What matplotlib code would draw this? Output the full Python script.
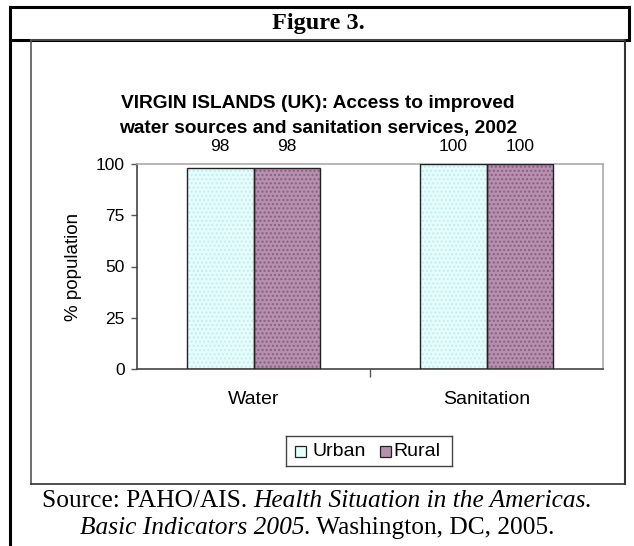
import matplotlib
matplotlib.use("Agg")
import matplotlib.pyplot as plt
from matplotlib.lines import Line2D
from matplotlib.patches import Rectangle
from matplotlib.textpath import TextPath
from matplotlib.font_manager import FontProperties
import matplotlib.transforms as mtransforms
import numpy as np

categories = ["Water", "Sanitation"]
urban = [98, 100]
rural = [98, 100]
series_names = ["Urban", "Rural"]
yticks = [0, 25, 50, 75, 100]

W, H = 634, 546
fig = plt.figure(figsize=(W / 100, H / 100), dpi=100)

def fx(x):
    return x / W

def fy(y):
    return 1 - y / H

def line(x0, y0, x1, y1, lw=2.2, color="black"):
    fig.add_artist(Line2D([fx(x0), fx(x1)], [fy(y0), fy(y1)], transform=fig.transFigure,
                          lw=lw, color=color, solid_capstyle="projecting"))

# table frame
line(10, 7, 629, 7)
line(10, 7, 10, 546)
line(629, 7, 629, 40)
line(10, 40, 629, 40)
# chart frame
line(31, 40, 625, 40, lw=1.2, color="#555555")
line(31, 40, 31, 484, lw=1.2, color="#555555")
line(625, 40, 625, 484, lw=1.5, color="#333333")
line(31, 484, 625, 484, lw=1.2, color="#333333")

fig.text(fx(318), fy(23), "Figure 3.", ha="center", va="center",
         family="Liberation Serif", weight="bold", fontsize=17.5)
fig.text(fx(318), fy(103), "VIRGIN ISLANDS (UK): Access to improved", ha="center", va="center",
         family="Liberation Sans", weight="bold", fontsize=13.8)
fig.text(fx(318), fy(129), "water sources and sanitation services, 2002", ha="center", va="center",
         family="Liberation Sans", weight="bold", fontsize=13.8)

ax = fig.add_axes([fx(137), fy(369), (603 - 137) / W, (369 - 164) / H])
x = np.arange(len(categories))
bw = 0.285
urban_fc, urban_hc = "#E4FDFD", "#C8ECEC"
rural_fc, rural_hc = "#B690AE", "#8A5E80"
for vals, off, fc, hc in [(urban, -bw / 2, urban_fc, urban_hc), (rural, bw / 2, rural_fc, rural_hc)]:
    ax.bar(x + off, vals, bw, color=fc, edgecolor=hc, hatch="....", linewidth=0, zorder=2)
    ax.bar(x + off, vals, bw, fill=False, edgecolor="#222222", linewidth=1.0, zorder=3)
    for xi, v in zip(x + off, vals):
        ax.text(xi, 108.5, f"{v}", ha="center", va="center", family="Liberation Sans", fontsize=12.5,
                clip_on=False)

ax.set_xlim(-0.5, 1.5)
ax.set_ylim(0, 100)
ax.set_yticks(yticks)
ax.set_yticklabels([str(t) for t in yticks], family="Liberation Sans", fontsize=12.5)
ax.set_xticks([0.5])
ax.set_xticklabels([""])
ax.tick_params(axis="y", direction="out", length=4, width=1, color="#555555", pad=5)
ax.tick_params(axis="x", direction="out", length=6, width=1, color="#555555")
trans = mtransforms.blended_transform_factory(ax.transData, fig.transFigure)
for xi, c in zip(x, categories):
    ax.text(xi, fy(400), c, transform=trans, ha="center", va="center",
            family="Liberation Sans", fontsize=14)
fig.text(fx(73), fy(267), "% population", rotation=90, ha="center", va="center",
         family="Liberation Sans", fontsize=13.5)
for s in ["top", "right"]:
    ax.spines[s].set_color("#AAAAAA")
    ax.spines[s].set_linewidth(1.2)
for s in ["left", "bottom"]:
    ax.spines[s].set_color("#444444")
    ax.spines[s].set_linewidth(1.2)

# legend
lg = fig.add_axes([fx(286), fy(466), (452 - 286) / W, (466 - 436) / H])
lg.set_xlim(0, 166)
lg.set_ylim(30, 0)
lg.set_xticks([])
lg.set_yticks([])
for s in lg.spines.values():
    s.set_color("#444444")
    s.set_linewidth(1.0)
lg.add_patch(Rectangle((9, 10), 11, 11, facecolor=urban_fc, edgecolor="#222222", lw=0.9))
lg.text(26, 15.5, series_names[0], va="center", ha="left", family="Liberation Sans", fontsize=14)
lg.add_patch(Rectangle((94, 10), 11, 11, facecolor=rural_fc, edgecolor="#222222", lw=0.9))
lg.text(107, 15.5, series_names[1], va="center", ha="left", family="Liberation Sans", fontsize=14)

t1 = "Source: PAHO/AIS. "
t2 = "Health Situation in the Americas."
t3 = "Basic Indicators 2005"
t4 = ". Washington, DC, 2005."
fs = 18.3
fp_r = FontProperties(family="Liberation Serif", size=fs)
fp_i = FontProperties(family="Liberation Serif", size=fs, style="italic")

def width_px(s, fp):
    return TextPath((0, 0), s, prop=fp).get_extents().width * 100 / 72

def width_adv(s, fp):
    return width_px(s.replace(" ", "\u00a0") + "|", fp) - width_px("|", fp)

w1 = width_adv(t1, fp_r); w2 = width_adv(t2, fp_i)
start = 319 - (w1 + w2) / 2
fig.text(fx(start), fy(501), t1, ha="left", va="center", fontproperties=fp_r)
fig.text(fx(start + w1), fy(501), t2, ha="left", va="center", fontproperties=fp_i)
w3 = width_adv(t3, fp_i) - 3; w4 = width_adv(t4, fp_r)
start = 318 - (w3 + w4) / 2
fig.text(fx(start), fy(528), t3, ha="left", va="center", fontproperties=fp_i)
fig.text(fx(start + w3), fy(528), t4, ha="left", va="center", fontproperties=fp_r)

fig.savefig("out.png", dpi=100)
